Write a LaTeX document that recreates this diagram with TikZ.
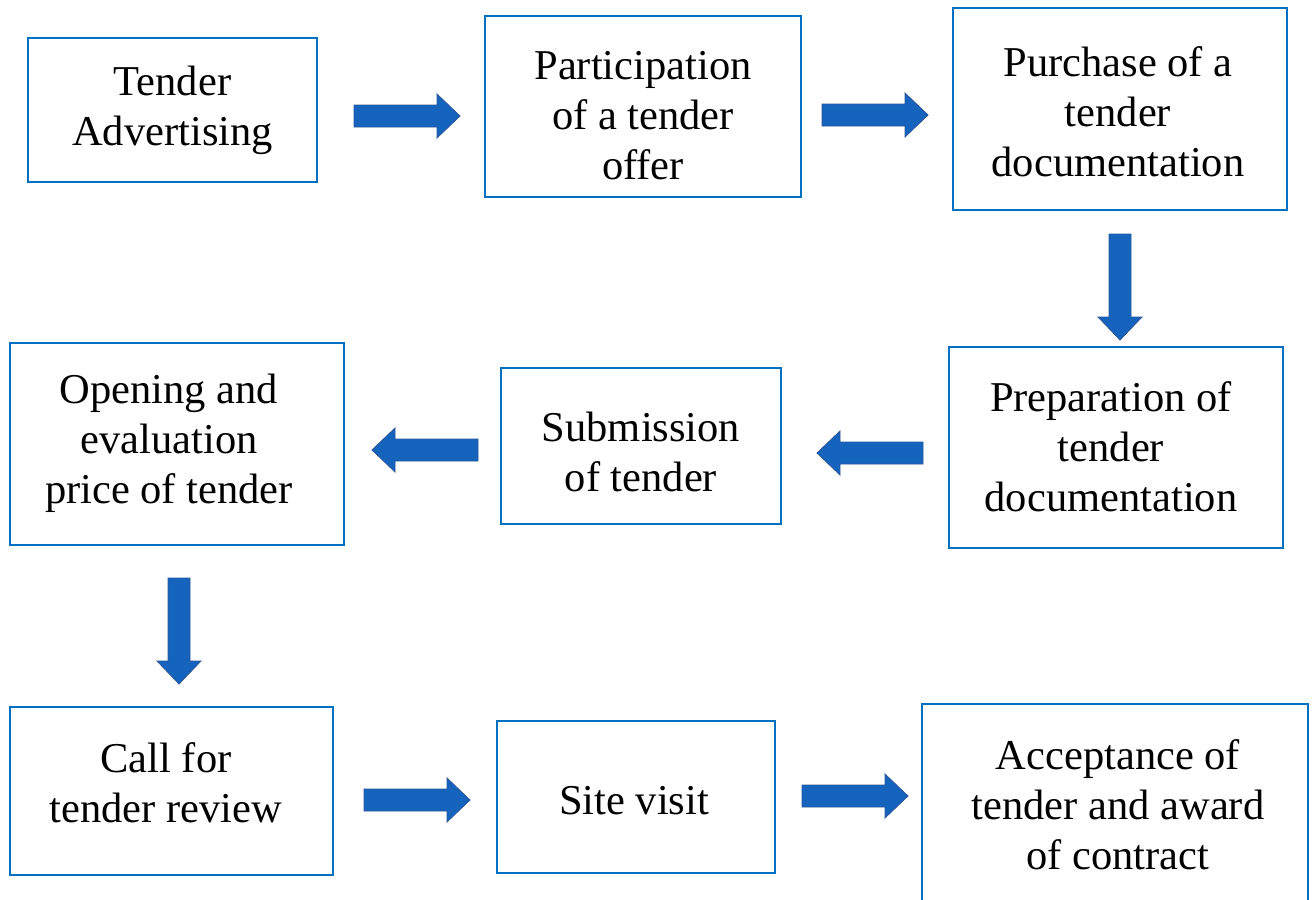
\documentclass[tikz,border=0pt]{standalone}
\usepackage{fontspec}
\setmainfont{Liberation Serif}
\definecolor{boxblue}{RGB}{0,112,192}
\definecolor{arrfill}{RGB}{20,100,190}
\definecolor{arrline}{RGB}{45,85,150}
\tikzset{
  box/.style={draw=boxblue, line width=2pt, inner sep=0pt, fill=white},
  txt/.style={align=center, inner sep=0pt, font=\fontsize{42.5}{50}\selectfont},
  blockarrow/.pic={\filldraw[fill=arrfill, draw=arrline, line width=0.8pt]
     (-53,-11) -- (30,-11) -- (30,-22) -- (53,0) -- (30,22) -- (30,11) -- (-53,11) -- cycle;}
}
\begin{document}
\begin{tikzpicture}[x=1pt,y=-1pt]
\useasboundingbox (0,0) rectangle (1313,899);
\clip (0,0) rectangle (1313,899);
% boxes
\node[box, minimum width=289pt, minimum height=144pt] (b1) at (172.5,110) {};
\node[box, minimum width=316pt, minimum height=181pt] (b2) at (643,106.5) {};
\node[box, minimum width=334pt, minimum height=202pt] (b3) at (1120,109) {};
\node[box, minimum width=334pt, minimum height=201pt] (b4) at (1116,447.5) {};
\node[box, minimum width=280pt, minimum height=156pt] (b5) at (641,446) {};
\node[box, minimum width=334pt, minimum height=202pt] (b6) at (177,444) {};
\node[box, minimum width=323pt, minimum height=168pt] (b7) at (171.5,791) {};
\node[box, minimum width=278pt, minimum height=152pt] (b8) at (636,797) {};
\node[box, minimum width=386pt, minimum height=220pt] (b9) at (1115,814) {};
% texts
\node[txt] (t1) at (172.5,110) {Tender\\Advertising};
\node[txt] (t2) at (643,116) {Participation\\of a tender\\offer};
\node[txt] (t3) at (1118,112) {Purchase of a\\tender\\documentation};
\node[txt] (t4) at (1111,447) {Preparation of\\tender\\documentation};
\node[txt] (t5) at (641,452) {Submission\\of tender};
\node[txt] (t6) at (169,443) {Opening and\\evaluation\\price of tender};
\node[txt] (t7) at (166,783) {Call for\\tender review};
\node[txt] (t8) at (634,801) {Site visit};
\node[txt] (t9) at (1118,805) {Acceptance of\\tender and award\\of contract};
% block arrows
\pic at (407,116) {blockarrow};
\pic at (875,115) {blockarrow};
\pic[rotate=-90] at (1120,287) {blockarrow};
\pic[rotate=180] at (870,453) {blockarrow};
\pic[rotate=180] at (425,450) {blockarrow};
\pic[rotate=-90] at (179,631) {blockarrow};
\pic at (417,800) {blockarrow};
\pic at (855,796) {blockarrow};
\end{tikzpicture}
\end{document}
